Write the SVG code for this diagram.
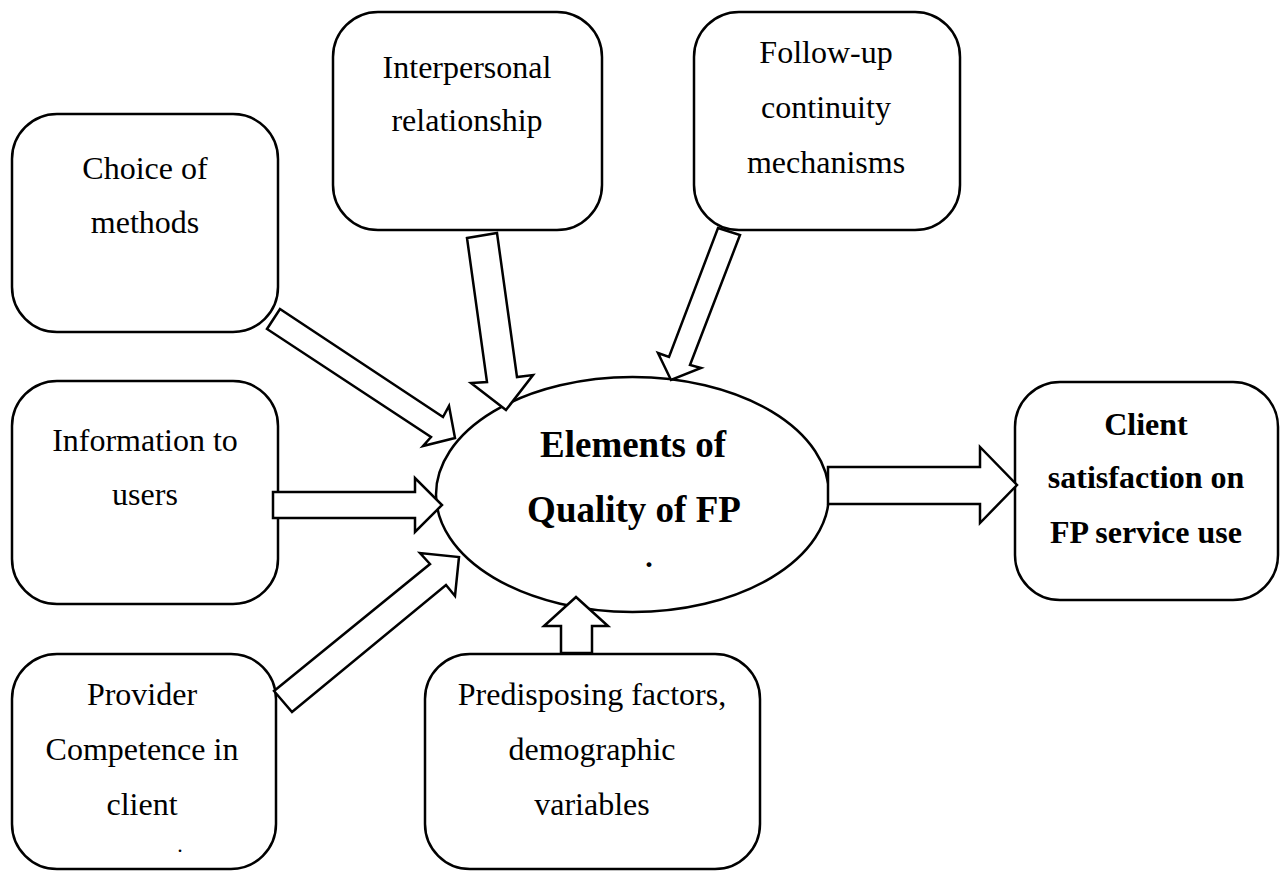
<svg xmlns="http://www.w3.org/2000/svg" width="1280" height="871" viewBox="0 0 1280 871">
<style>
.box{fill:#fff;stroke:#000;stroke-width:2.5}
.arr{fill:#fff;stroke:#000;stroke-width:2.5;stroke-linejoin:miter}
.t{font-family:"Liberation Serif","Times New Roman",serif;font-size:32px;fill:#000;text-anchor:middle}
.b{font-family:"Liberation Serif","Times New Roman",serif;font-weight:bold;fill:#000;text-anchor:middle}
</style>
<rect width="1280" height="871" fill="#fff"/>
<g id="choice">
<rect class="box" x="12" y="114" width="266" height="218" rx="45"/>
<text class="t" x="145" y="179">Choice of</text>
<text class="t" x="145" y="233">methods</text>
</g>
<g id="interpersonal">
<rect class="box" x="333" y="12" width="269" height="218" rx="45"/>
<text class="t" x="467" y="78">Interpersonal</text>
<text class="t" x="467" y="131">relationship</text>
</g>
<g id="followup">
<rect class="box" x="694" y="12" width="266" height="218" rx="45"/>
<text class="t" x="826" y="63">Follow-up</text>
<text class="t" x="826" y="118">continuity</text>
<text class="t" x="826" y="173">mechanisms</text>
</g>
<g id="information">
<rect class="box" x="12" y="381" width="266" height="223" rx="45"/>
<text class="t" x="145" y="451">Information to</text>
<text class="t" x="145" y="505">users</text>
</g>
<g id="provider">
<rect class="box" x="12" y="654" width="264" height="215" rx="45"/>
<text class="t" x="142" y="705">Provider</text>
<text class="t" x="142" y="760">Competence in</text>
<text class="t" x="142" y="815">client</text>
<text class="t" x="180" y="852" style="font-size:22px">.</text>
</g>
<g id="predisposing">
<rect class="box" x="425" y="654" width="335" height="215" rx="45"/>
<text class="t" x="592" y="705">Predisposing factors,</text>
<text class="t" x="592" y="760">demographic</text>
<text class="t" x="592" y="815">variables</text>
</g>
<g id="client">
<rect class="box" x="1015" y="382" width="263" height="218" rx="45"/>
<text class="b" x="1146" y="435" font-size="32">Client</text>
<text class="b" x="1146" y="488" font-size="32">satisfaction on</text>
<text class="b" x="1146" y="543" font-size="32">FP service use</text>
</g>
<g id="elements">
<ellipse class="box" cx="632.5" cy="494.5" rx="196.5" ry="117.5"/>
<text class="b" x="633" y="457" font-size="37">Elements of</text>
<text class="b" x="634" y="522" font-size="37">Quality of FP</text>
<text class="b" x="649" y="567" font-size="30">.</text>
</g>
<g id="connectors">
<polygon class="arr" points="280,309 443,417 449,406 455,438 423,446 431,437 267,329"/>
<polygon class="arr" points="467,238 497,233 517,377 533,375 506,410 471,383 487,382"/>
<polygon class="arr" points="718,228 740,235 690,365 701,368 671,380 658,353 669,357"/>
<polygon class="arr" points="273,492 415,492 415,478 442,505 415,532 415,518 273,518"/>
<polygon class="arr" points="274,691 430,564 420,553 459,557 455,596 446,585 292,712"/>
<polygon class="arr" points="561,653 561,626 544,626 576,597 608,626 592,626 592,653"/>
<polygon class="arr" points="828,467 980,467 980,447 1017,485 980,523 980,504 828,504"/>
</g>
</svg>
